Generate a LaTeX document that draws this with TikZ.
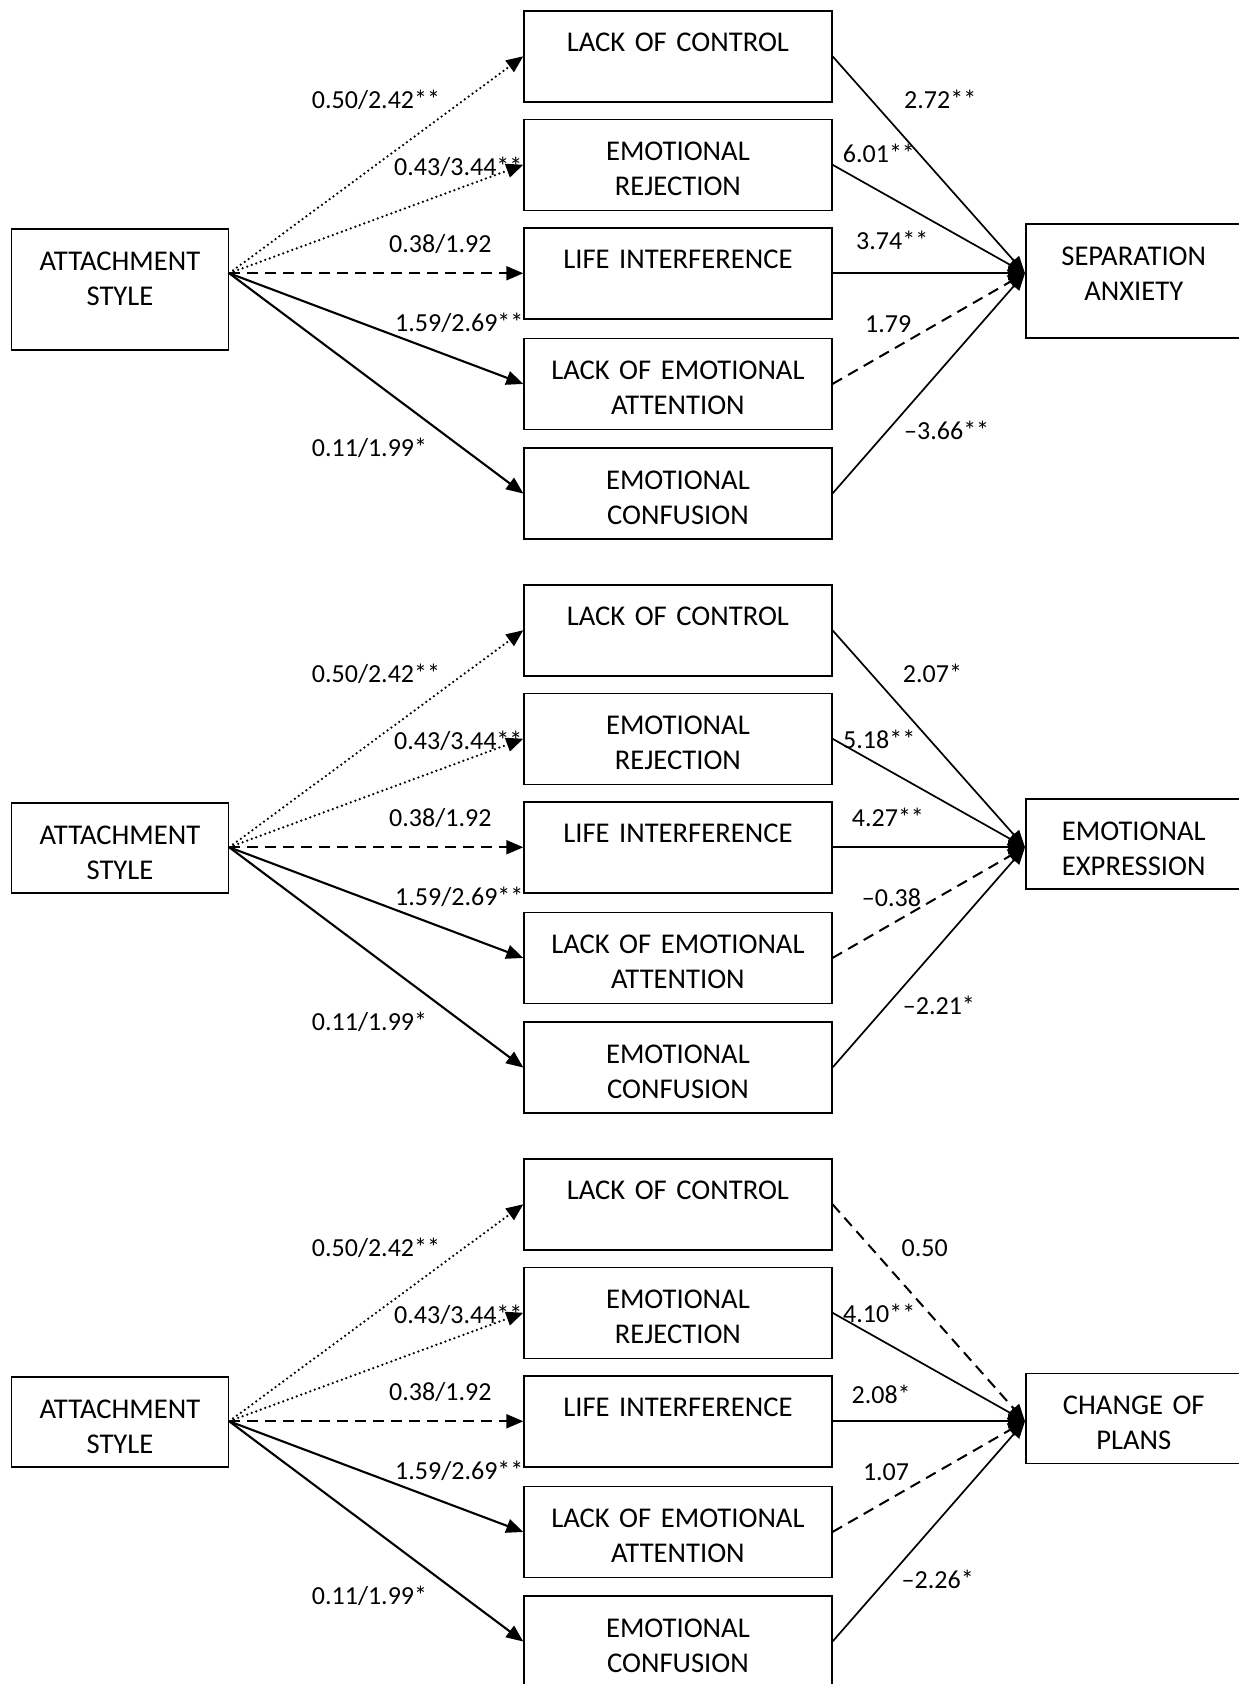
\documentclass[tikz,border=0pt]{standalone}
\usepackage{fontspec}
\setmainfont{Carlito}
\usetikzlibrary{arrows.meta}
\tikzset{
  box/.style={draw, line width=1.5pt, anchor=north west, inner sep=0pt, align=center, text height=41pt, font=\fontsize{28.6}{35}\selectfont},
  mid/.style={box, text width=307.7pt, text depth=50pt},
  coef/.style={anchor=base west, inner sep=0pt, font=\fontsize{26}{31}\selectfont},
  arr/.style={-{Triangle[length=17pt,width=14pt]}},
  solidarr/.style={arr, line width=2.1pt},
  slimarr/.style={arr, line width=1.7pt},
  dotarr/.style={arr, line width=2.5pt, line cap=round, dash pattern=on 0pt off 4.8pt},
  dasharr/.style={arr, line width=2pt, dash pattern=on 11pt off 7pt},
}
\begin{document}
\begin{tikzpicture}[x=1pt, y=-1pt]%
  \useasboundingbox (0,0) rectangle (1239,1684);%
  % separation anxiety
  \begin{scope}%
    \node[box, text width=217pt, text depth=80pt] (att1) at (10.7,228.3) {ATTACHMENT\\STYLE};%
    \node[mid] (loc1) at (523.3,10) {LACK OF CONTROL};%
    \node[mid] (er1) at (523.3,118.5) {EMOTIONAL\\REJECTION};%
    \node[mid] (li1) at (523.3,227) {LIFE INTERFERENCE};%
    \node[mid] (lea1) at (523.3,337.7) {LACK OF EMOTIONAL\\ATTENTION};%
    \node[mid] (ec1) at (523.3,447.3) {EMOTIONAL\\CONFUSION};%
    \node[box, text width=216pt, text depth=73pt] (out1) at (1025,223.3) {SEPARATION\\ANXIETY};%
    \coordinate (s1) at (att1.east |- li1.west);%
    \coordinate (t1) at (out1.west |- li1.east);%
    \draw[dotarr] (s1) -- (loc1.west);%
    \draw[dotarr] (s1) -- (er1.west);%
    \draw[dasharr] (s1) -- (li1.west);%
    \draw[solidarr] (s1) -- (lea1.west);%
    \draw[solidarr] (s1) -- (ec1.west);%
    \draw[slimarr] (loc1.east) -- (t1);%
    \draw[slimarr] (er1.east) -- (t1);%
    \draw[slimarr] (li1.east) -- (t1);%
    \draw[dasharr] (lea1.east) -- (t1);%
    \draw[slimarr] (ec1.east) -- (t1);%
    \node[coef] (a1loc) at (311.7,108.6) {0.50/2.42**};%
    \node[coef] (a1er) at (394,175.3) {0.43/3.44**};%
    \node[coef] (a1li) at (389,252.3) {0.38/1.92};%
    \node[coef] (a1lea) at (395,331) {1.59/2.69**};%
    \node[coef] (a1ec) at (311.7,456) {0.11/1.99*};%
    \node[coef] (b1loc) at (904,108.6) {2.72**};%
    \node[coef] (b1er) at (842.7,162) {6.01**};%
    \node[coef] (b1li) at (856,249.3) {3.74**};%
    \node[coef] (b1lea) at (865,332.3) {1.79};%
    \node[coef] (b1ec) at (904,439.3) {–3.66**};%
  \end{scope}%
  % emotional expression
  \begin{scope}[shift={(0,574)}]%
    \node[box, text width=217pt, text depth=49pt] (att2) at (10.7,228.3) {ATTACHMENT\\STYLE};%
    \node[mid] (loc2) at (523.3,10) {LACK OF CONTROL};%
    \node[mid] (er2) at (523.3,118.5) {EMOTIONAL\\REJECTION};%
    \node[mid] (li2) at (523.3,227) {LIFE INTERFERENCE};%
    \node[mid] (lea2) at (523.3,337.7) {LACK OF EMOTIONAL\\ATTENTION};%
    \node[mid] (ec2) at (523.3,447.3) {EMOTIONAL\\CONFUSION};%
    \node[box, text width=216pt, text depth=49pt] (out2) at (1025,224.3) {EMOTIONAL\\EXPRESSION};%
    \coordinate (s2) at (att2.east |- li2.west);%
    \coordinate (t2) at (out2.west |- li2.east);%
    \draw[dotarr] (s2) -- (loc2.west);%
    \draw[dotarr] (s2) -- (er2.west);%
    \draw[dasharr] (s2) -- (li2.west);%
    \draw[solidarr] (s2) -- (lea2.west);%
    \draw[solidarr] (s2) -- (ec2.west);%
    \draw[slimarr] (loc2.east) -- (t2);%
    \draw[slimarr] (er2.east) -- (t2);%
    \draw[slimarr] (li2.east) -- (t2);%
    \draw[dasharr] (lea2.east) -- (t2);%
    \draw[slimarr] (ec2.east) -- (t2);%
    \node[coef] (a2loc) at (311.7,108.6) {0.50/2.42**};%
    \node[coef] (a2er) at (394,175.3) {0.43/3.44**};%
    \node[coef] (a2li) at (389,252.3) {0.38/1.92};%
    \node[coef] (a2lea) at (395,331) {1.59/2.69**};%
    \node[coef] (a2ec) at (311.7,456) {0.11/1.99*};%
    \node[coef] (b2loc) at (902.7,108) {2.07*};%
    \node[coef] (b2er) at (843,174.6) {5.18**};%
    \node[coef] (b2li) at (851.7,252.6) {4.27**};%
    \node[coef] (b2lea) at (861.7,332) {–0.38};%
    \node[coef] (b2ec) at (902.7,440.3) {–2.21*};%
  \end{scope}%
  % change of plans
  \begin{scope}[shift={(0,1148)}]%
    \node[box, text width=217pt, text depth=49pt] (att3) at (10.7,228.3) {ATTACHMENT\\STYLE};%
    \node[mid] (loc3) at (523.3,10) {LACK OF CONTROL};%
    \node[mid] (er3) at (523.3,118.5) {EMOTIONAL\\REJECTION};%
    \node[mid] (li3) at (523.3,227) {LIFE INTERFERENCE};%
    \node[mid] (lea3) at (523.3,337.7) {LACK OF EMOTIONAL\\ATTENTION};%
    \node[mid] (ec3) at (523.3,447.3) {EMOTIONAL\\CONFUSION};%
    \node[box, text width=216pt, text depth=49pt] (out3) at (1025,224.5) {CHANGE OF\\PLANS};%
    \coordinate (s3) at (att3.east |- li3.west);%
    \coordinate (t3) at (out3.west |- li3.east);%
    \draw[dotarr] (s3) -- (loc3.west);%
    \draw[dotarr] (s3) -- (er3.west);%
    \draw[dasharr] (s3) -- (li3.west);%
    \draw[solidarr] (s3) -- (lea3.west);%
    \draw[solidarr] (s3) -- (ec3.west);%
    \draw[dasharr] (loc3.east) -- (t3);%
    \draw[slimarr] (er3.east) -- (t3);%
    \draw[slimarr] (li3.east) -- (t3);%
    \draw[dasharr] (lea3.east) -- (t3);%
    \draw[slimarr] (ec3.east) -- (t3);%
    \node[coef] (a3loc) at (311.7,108.6) {0.50/2.42**};%
    \node[coef] (a3er) at (394,175.3) {0.43/3.44**};%
    \node[coef] (a3li) at (389,252.3) {0.38/1.92};%
    \node[coef] (a3lea) at (395,331) {1.59/2.69**};%
    \node[coef] (a3ec) at (311.7,456) {0.11/1.99*};%
    \node[coef] (b3loc) at (901.5,108.2) {0.50};%
    \node[coef] (b3er) at (843,174.8) {4.10**};%
    \node[coef] (b3li) at (851.4,255) {2.08*};%
    \node[coef] (b3lea) at (862.8,332.7) {1.07};%
    \node[coef] (b3ec) at (901.5,440.3) {–2.26*};%
  \end{scope}%
\end{tikzpicture}
\end{document}
